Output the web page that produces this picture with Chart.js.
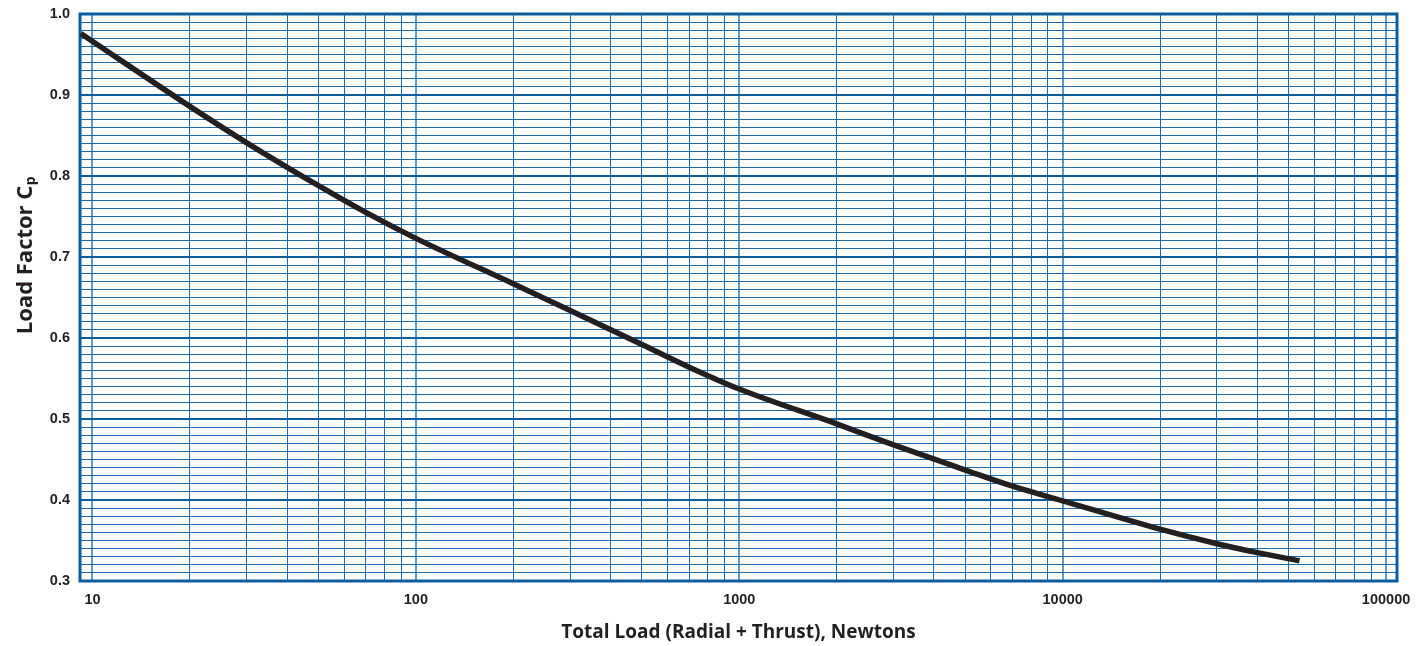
<!DOCTYPE html>
<html>
<head>
<meta charset="utf-8">
<script src="https://cdn.jsdelivr.net/npm/chart.js@4.4.1/dist/chart.umd.min.js"></script>
<style>
html, body { margin: 0; padding: 0; background: #ffffff; }
canvas { display: block; }
</style>
</head>
<body>
<canvas id="chart" width="1416" height="646"></canvas>
<script>
// ---- data ----
const totalLoadN = [9.2, 20, 30, 50, 70, 100, 200, 300, 500, 700, 1000, 2000, 3000, 5000, 7000, 10000, 20000, 30000, 40000, 54000];
const loadFactorCp = [0.976, 0.886, 0.841, 0.788, 0.755, 0.723, 0.667, 0.634, 0.592, 0.564, 0.537, 0.494, 0.468, 0.437, 0.417, 0.399, 0.364, 0.346, 0.335, 0.325];

const xDecades = [10, 100, 1000, 10000];
const xMultipliers = [1, 2, 3, 4, 5, 6, 7, 8, 9];
const xTickLabels = ['10', '100', '1000', '10000', '100000'];
const yTickLabels = ['0.3', '0.4', '0.5', '0.6', '0.7', '0.8', '0.9', '1.0'];
const xTitle = 'Total Load (Radial + Thrust), Newtons';
const yTitleMain = 'Load Factor C';
const yTitleSub = 'p';

const X_MIN = 9.15, X_MAX = 108100;
const Y_MIN = 0.3, Y_MAX = 1.0;

const GRID_DARK = '#1c6aab';
const GRID_MAJOR = '#0b5d9e';
const GRID_DECADE = '#5e9acb';
const FRAME = '#0a5d9f';
const INK = '#231f20';
const TITLE_FONT = '"Open Sans", "Liberation Sans", sans-serif';
const TICK_FONT = '"Liberation Sans", Arial, sans-serif';

const xTickValues = [];
xDecades.forEach(d => xMultipliers.forEach(m => xTickValues.push(d * m)));
xTickValues.push(100000);

const yTickValues = [];
for (let i = 30; i <= 100; i++) yTickValues.push(i / 100);

const isXLabel = v => xTickLabels.includes(String(Math.round(v)));
const isYMajor = v => Math.abs(v * 10 - Math.round(v * 10)) < 1e-6;

const framePlugin = {
  id: 'frameAndYTitle',
  beforeDatasetsDraw(chart) {
    const { ctx, chartArea: a } = chart;
    ctx.save();
    ctx.strokeStyle = FRAME;
    ctx.lineWidth = 3;
    ctx.strokeRect(a.left, a.top, a.right - a.left, a.bottom - a.top);
    ctx.restore();
  },
  afterDraw(chart) {
    const { ctx } = chart;
    ctx.save();
    ctx.translate(32, 255.5);
    ctx.rotate(-Math.PI / 2);
    ctx.fillStyle = INK;
    ctx.textBaseline = 'alphabetic';
    const mainFont = 'bold 22px ' + TITLE_FONT;
    const subFont = 'bold 14px ' + TITLE_FONT;
    ctx.font = mainFont;
    const w1 = ctx.measureText(yTitleMain).width;
    ctx.font = subFont;
    const w2 = ctx.measureText(yTitleSub).width;
    const start = -(w1 + w2) / 2;
    ctx.font = mainFont;
    ctx.textAlign = 'left';
    ctx.fillText(yTitleMain, start, 0);
    ctx.font = subFont;
    ctx.fillText(yTitleSub, start + w1 + 0.5, 3);
    ctx.restore();
  }
};

new Chart(document.getElementById('chart'), {
  type: 'line',
  data: {
    datasets: [{
      data: totalLoadN.map((x, i) => ({ x, y: loadFactorCp[i] })),
      borderColor: INK,
      borderWidth: 5.5,
      pointRadius: 0,
      fill: false,
      cubicInterpolationMode: 'monotone',
      borderCapStyle: 'butt'
    }]
  },
  options: {
    responsive: false,
    devicePixelRatio: 1,
    animation: false,
    layout: { padding: { top: 14, right: 19, bottom: 0, left: 0 } },
    plugins: { legend: { display: false }, tooltip: { enabled: false } },
    scales: {
      x: {
        type: 'logarithmic',
        min: X_MIN,
        max: X_MAX,
        afterBuildTicks: s => { s.ticks = xTickValues.map(v => ({ value: v })); },
        afterFit: s => { s.height = 65; s.paddingLeft = 0; s.paddingRight = 0; },
        border: { display: false },
        grid: {
          drawTicks: false,
          color: c => (c.tick && isXLabel(c.tick.value)) ? GRID_DECADE : GRID_DARK,
          lineWidth: c => (c.tick && isXLabel(c.tick.value)) ? 2 : 1
        },
        ticks: {
          autoSkip: false,
          maxRotation: 0,
          minRotation: 0,
          padding: 10,
          color: INK,
          font: { family: TICK_FONT, weight: 'bold', size: 14.5 },
          callback: v => isXLabel(v) ? String(Math.round(v)) : ''
        },
        title: {
          display: true,
          text: xTitle,
          color: INK,
          font: { family: TITLE_FONT, weight: 'bold', size: 19 },
          padding: { top: 0, bottom: 2 }
        }
      },
      y: {
        type: 'linear',
        min: Y_MIN,
        max: Y_MAX,
        afterBuildTicks: s => { s.ticks = yTickValues.map(v => ({ value: v })); },
        afterFit: s => { s.width = 80; s.paddingTop = 0; s.paddingBottom = 0; },
        border: { display: false },
        grid: {
          drawTicks: false,
          color: c => (c.tick && isYMajor(c.tick.value)) ? GRID_MAJOR : GRID_DARK,
          lineWidth: c => (c.tick && isYMajor(c.tick.value)) ? 2 : 1
        },
        ticks: {
          autoSkip: false,
          padding: 10,
          color: INK,
          font: { family: TICK_FONT, weight: 'bold', size: 14.5 },
          callback: v => isYMajor(v) ? yTickLabels[Math.round(v * 10) - 3] : ''
        }
      }
    }
  },
  plugins: [framePlugin]
});
</script>
</body>
</html>
